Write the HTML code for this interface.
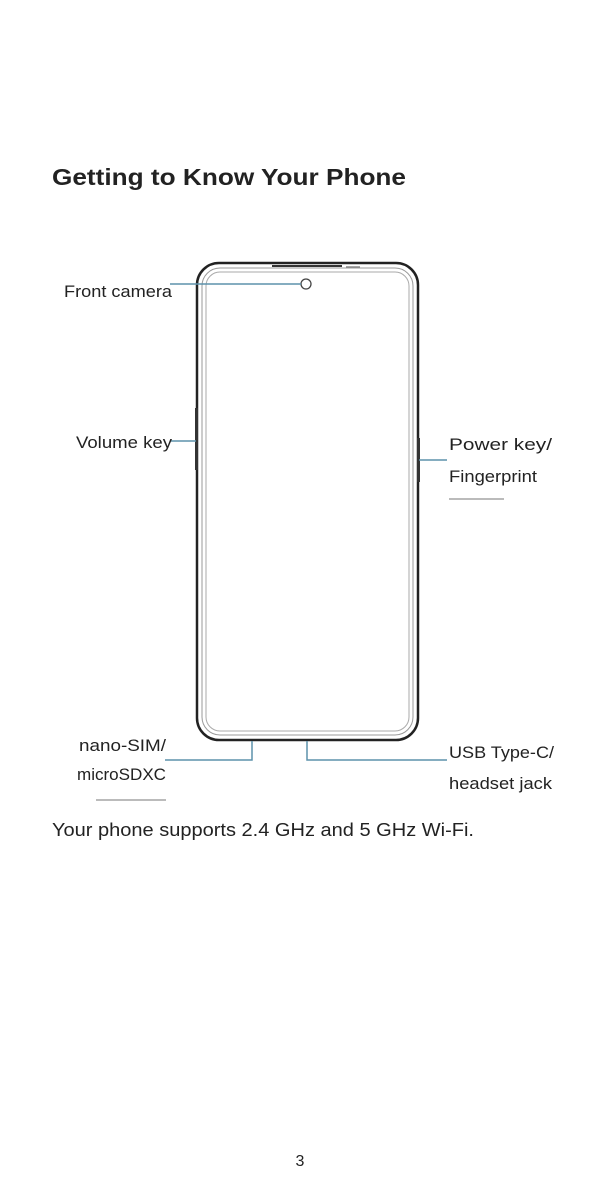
<!DOCTYPE html>
<html><head><meta charset="utf-8"><style>
html,body{margin:0;padding:0;background:#fff;width:600px;height:1198px;overflow:hidden}
svg{display:block}
text{font-family:"Liberation Sans","NanumGothic",sans-serif;fill:#222}
</style></head><body>
<svg width="600" height="1198" viewBox="0 0 600 1198" xmlns="http://www.w3.org/2000/svg">
<text x="52" y="185" font-size="23" font-weight="bold" fill="#111" textLength="354" lengthAdjust="spacingAndGlyphs">Getting to Know Your Phone</text>
<rect x="197" y="263" width="221" height="477" rx="22" fill="none" stroke="#222" stroke-width="2.5"/>
<rect x="202" y="268" width="211" height="467" rx="18" fill="none" stroke="#999" stroke-width="1"/>
<rect x="206" y="272" width="203" height="459" rx="14" fill="none" stroke="#aaa" stroke-width="1"/>
<line x1="272" y1="266" x2="342" y2="266" stroke="#333" stroke-width="2"/>
<line x1="346" y1="267" x2="360" y2="267" stroke="#888" stroke-width="1.5"/>
<rect x="195" y="408" width="3" height="62" fill="#333"/>
<rect x="417" y="438" width="3" height="44" fill="#333"/>
<circle cx="306" cy="284" r="5" fill="none" stroke="#444" stroke-width="1.3"/>
<g stroke="#5d92ab" stroke-width="1.5" fill="none">
<line x1="170" y1="284" x2="301" y2="284"/>
<line x1="171" y1="441" x2="196" y2="441"/>
<line x1="419" y1="460" x2="447" y2="460"/>
<polyline points="252,741 252,760 165,760"/>
<polyline points="307,741 307,760 447,760"/>
</g>
<g font-size="17">
<text x="64" y="297" textLength="108" lengthAdjust="spacingAndGlyphs">Front camera</text>
<text x="76" y="448" textLength="96" lengthAdjust="spacingAndGlyphs">Volume key</text>
<text x="449" y="450" textLength="103" lengthAdjust="spacingAndGlyphs">Power key/</text>
<text x="449" y="482" textLength="88" lengthAdjust="spacingAndGlyphs">Fingerprint</text>
<text x="79" y="751" textLength="87" lengthAdjust="spacingAndGlyphs">nano-SIM/</text>
<text x="77" y="780" textLength="89" lengthAdjust="spacingAndGlyphs">microSDXC</text>
<text x="449" y="758" textLength="105" lengthAdjust="spacingAndGlyphs">USB Type-C/</text>
<text x="449" y="789" textLength="103" lengthAdjust="spacingAndGlyphs">headset jack</text>
</g>
<rect x="449" y="498" width="55" height="2" fill="#bbb"/>
<rect x="96" y="799" width="70" height="2" fill="#bbb"/>
<text x="52" y="836" font-size="18" textLength="422" lengthAdjust="spacingAndGlyphs">Your phone supports 2.4 GHz and 5 GHz Wi-Fi.</text>
<text x="300" y="1166" font-size="16" text-anchor="middle">3</text>
</svg>
</body></html>
